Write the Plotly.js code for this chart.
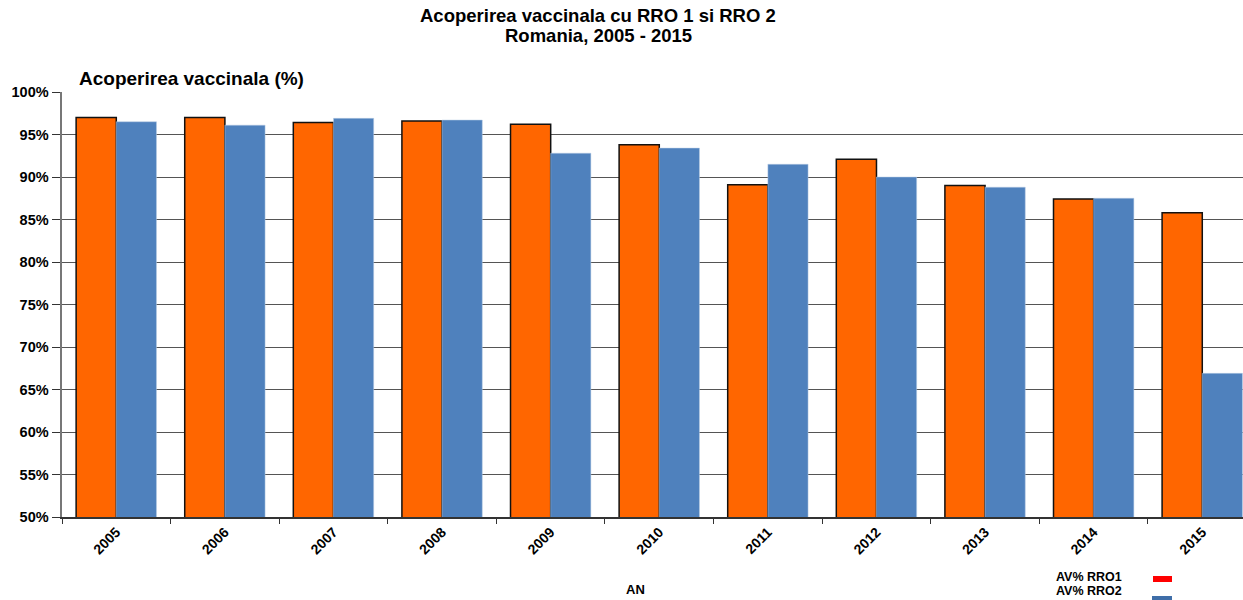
<!DOCTYPE html>
<html>
<head>
<meta charset="utf-8">
<script src="https://cdn.plot.ly/plotly-3.0.1.min.js"></script>
<style>html,body{margin:0;padding:0;background:#fff;}#chart{width:1243px;height:600px;}</style>
</head>
<body>
<div id="chart"></div>
<script>
const years = ['2005','2006','2007','2008','2009','2010','2011','2012','2013','2014','2015'];
const rro1 = [97.0, 97.0, 96.4, 96.6, 96.2, 93.8, 89.1, 92.1, 89.0, 87.4, 85.8];
const rro2 = [96.5, 96.1, 96.9, 96.7, 92.8, 93.4, 91.5, 90.0, 88.8, 87.5, 66.9];
const seriesNames = ['AV% RRO1', 'AV% RRO2'];
const yTickVals = [50,55,60,65,70,75,80,85,90,95,100];
const yTickText = yTickVals.map(v => v + '%');
const titleLines = ['Acoperirea vaccinala cu RRO 1 si RRO 2', 'Romania, 2005 - 2015'];

const F = 'Liberation Sans, Arial, sans-serif';

const traces = [
  {type:'bar', name:seriesNames[0], x:years, y:rro1,
   marker:{color:'#FF6600', line:{color:'#111', width:1.5}}},
  {type:'bar', name:seriesNames[1], x:years, y:rro2,
   marker:{color:'#4F81BD', line:{color:'#B8CCE4', width:0.5}}}
];

function pa(p){ return (517 - p) / 425; }
function px(p){ return (p - 62) / 1181; }

const layout = {
  width:1243, height:600,
  margin:{l:62, r:0, t:92, b:83},
  paper_bgcolor:'#fff', plot_bgcolor:'#fff',
  showlegend:false,
  barmode:'group', bargap:0.26, bargroupgap:0,
  xaxis:{type:'category', range:[-0.5, 10.375], tickson:'boundaries',
         ticks:'outside', ticklen:5, tickcolor:'#333', tickwidth:1,
         showline:true, linecolor:'#333', linewidth:1.5,
         showgrid:false, tickangle:-45,
         tickfont:{family:F, size:14, color:'#000', weight:'bold'},
         fixedrange:true},
  yaxis:{range:[50,100], tickvals:yTickVals, ticktext:yTickText,
         ticks:'outside', ticklen:8, tickcolor:'#333', tickwidth:1,
         showline:true, linecolor:'#777', linewidth:2.5,
         showgrid:true, gridcolor:'#555', gridwidth:1, zeroline:false,
         tickfont:{family:F, size:14.5, color:'#000', weight:'bold'},
         fixedrange:true},
  annotations:[
    {text:'<b>'+titleLines[0]+'</b>', xref:'paper', yref:'paper', x:px(598), y:pa(15), xanchor:'center', yanchor:'middle',
     showarrow:false, font:{family:F, size:18.5, color:'#000'}},
    {text:'<b>'+titleLines[1]+'</b>', xref:'paper', yref:'paper', x:px(598), y:pa(35), xanchor:'center', yanchor:'middle',
     showarrow:false, font:{family:F, size:18.5, color:'#000'}},
    {text:'<b>Acoperirea vaccinala (%)</b>', xref:'paper', yref:'paper',
     x:px(77), y:pa(78), xanchor:'left', yanchor:'middle', showarrow:false,
     font:{family:F, size:19, color:'#000'}},
    {text:'<b>AN</b>', xref:'paper', yref:'paper', x:px(635), y:pa(589), xanchor:'center', yanchor:'middle',
     showarrow:false, font:{family:F, size:13, color:'#000'}},
    {text:'<b>'+seriesNames[0]+'</b>', xref:'paper', yref:'paper', x:px(1054), y:pa(577), xanchor:'left', yanchor:'middle',
     showarrow:false, font:{family:F, size:12.5, color:'#000'}},
    {text:'<b>'+seriesNames[1]+'</b>', xref:'paper', yref:'paper', x:px(1054), y:pa(591), xanchor:'left', yanchor:'middle',
     showarrow:false, font:{family:F, size:12.5, color:'#000'}}
  ],
  shapes:[
    {type:'rect', xref:'paper', yref:'paper', x0:px(1153), x1:px(1172), y0:pa(582), y1:pa(576),
     fillcolor:'#FF0000', line:{width:0}},
    {type:'rect', xref:'paper', yref:'paper', x0:px(1152), x1:px(1172), y0:pa(600), y1:pa(596),
     fillcolor:'#3F6EA8', line:{width:0}}
  ]
};

Plotly.newPlot('chart', traces, layout, {displayModeBar:false, staticPlot:true});
</script>
</body>
</html>
